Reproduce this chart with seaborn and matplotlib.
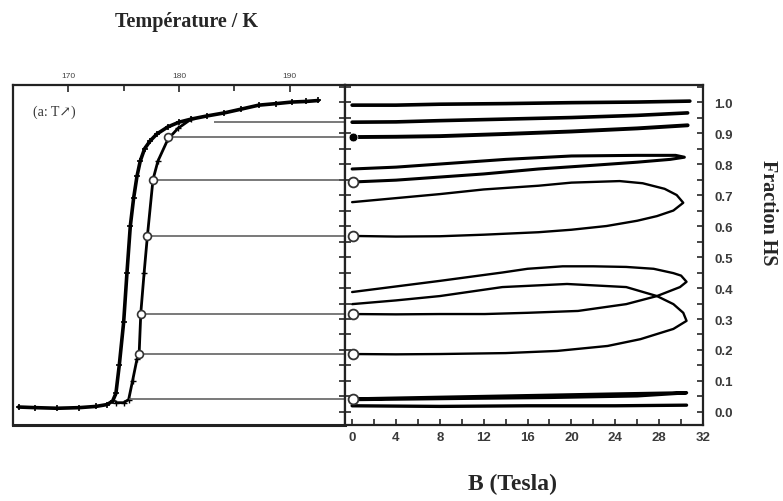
import matplotlib
matplotlib.use('Agg')
import matplotlib.pyplot as plt
from matplotlib.ticker import MultipleLocator
import pandas as pd
import seaborn as sns

# Left panel: HS fraction vs temperature (two branches of the transition)
temp_a = [165.5, 167.0, 169.0, 171.0, 172.5, 173.5, 174.0, 174.3, 174.6, 175.0, 175.3, 175.6,
          175.9, 176.2, 176.5, 176.9, 177.4, 178.0, 179.0, 180.0, 181.1, 182.5, 184.1, 185.6,
          187.2, 188.8, 190.2, 191.5, 192.6]
frac_a = [0.016, 0.014, 0.012, 0.014, 0.018, 0.024, 0.035, 0.06, 0.15, 0.29, 0.45, 0.60,
          0.69, 0.76, 0.81, 0.85, 0.875, 0.897, 0.92, 0.935, 0.945, 0.955, 0.965, 0.977,
          0.99, 0.995, 1.0, 1.002, 1.005]
temp_b = [174.3, 175.0, 175.45, 175.8, 176.2, 176.4, 176.55, 176.85, 177.15, 177.65, 178.1,
          179.0, 179.9, 181.1]
frac_b = [0.03, 0.03, 0.04, 0.10, 0.17, 0.19, 0.32, 0.45, 0.57, 0.75, 0.81, 0.88, 0.915, 0.945]

# horizontal guides from the quench points to the field axis
guide_level = [0.935, 0.887, 0.75, 0.568, 0.316, 0.187, 0.042]
guide_start = [183.2, 179.0, 177.65, 177.15, 176.55, 176.4, 175.45]
circle_temp = [179.0, 177.65, 177.15, 176.55, 176.4]
circle_frac = [0.887, 0.75, 0.568, 0.316, 0.187]

# Right panel: HS fraction vs pulsed field B (Tesla)
b_1 = [0, 4, 8, 14, 20, 26, 30.8]
f_1 = [0.99, 0.99, 0.993, 0.995, 0.998, 1.0, 1.003]
b_2 = [0, 4, 8, 14, 20, 26, 30.6]
f_2 = [0.935, 0.936, 0.94, 0.945, 0.95, 0.957, 0.965]
b_3 = [0, 4, 8, 14, 20, 26, 30.6]
f_3 = [0.887, 0.888, 0.89, 0.897, 0.905, 0.915, 0.925]
b_4 = [0, 4, 8, 12, 17, 22, 26, 29, 30.3, 29.5, 26, 20, 14, 8, 4, 0]
f_4 = [0.742, 0.748, 0.758, 0.768, 0.784, 0.796, 0.806, 0.815, 0.822, 0.828, 0.828, 0.826,
       0.815, 0.80, 0.79, 0.784]
b_5 = [0, 4, 8, 12, 17, 20, 23.2, 26, 27.8, 29.3, 30.2, 29.6, 28.5, 26.5, 24.4, 20, 17, 12,
       8, 4, 0]
f_5 = [0.568, 0.566, 0.567, 0.572, 0.58, 0.588, 0.60, 0.617, 0.632, 0.65, 0.675, 0.70, 0.72,
       0.738, 0.745, 0.74, 0.73, 0.718, 0.703, 0.69, 0.677]
b_6 = [0, 4, 8, 12.1, 16, 20.6, 25, 27.8, 29.9, 30.5, 30.0, 29.3, 27.5, 25, 22, 19.2, 16,
       13.7, 8, 4, 0]
f_6 = [0.316, 0.315, 0.316, 0.316, 0.32, 0.326, 0.348, 0.374, 0.403, 0.42, 0.44, 0.448, 0.462,
       0.468, 0.47, 0.47, 0.462, 0.45, 0.423, 0.405, 0.387]
b_7 = [0, 4, 8, 14, 18.7, 23.3, 26.3, 29.3, 30.5, 30.2, 29.3, 27.8, 25, 19.6, 13.7, 8, 4, 0]
f_7 = [0.187, 0.186, 0.187, 0.19, 0.197, 0.213, 0.235, 0.268, 0.294, 0.32, 0.348, 0.374,
       0.403, 0.413, 0.403, 0.374, 0.36, 0.348]
b_8 = [0, 6, 12, 18, 24, 30.5, 26, 18, 10, 0]
f_8 = [0.042, 0.046, 0.05, 0.054, 0.058, 0.062, 0.052, 0.047, 0.044, 0.04]
b_9 = [0, 8, 16, 24, 30.5]
f_9 = [0.02, 0.018, 0.02, 0.02, 0.022]

sweeps = [(b_1, f_1), (b_2, f_2), (b_3, f_3), (b_4, f_4), (b_5, f_5),
          (b_6, f_6), (b_7, f_7), (b_8, f_8), (b_9, f_9)]
sweep_lw = [2.6, 2.6, 2.8, 2.2, 1.7, 1.7, 1.7, 2.4, 2.4]

open_b = [0.1, 0.1, 0.1, 0.1, 0.1]
open_f = [0.742, 0.568, 0.316, 0.187, 0.042]
filled_b = [0.1]
filled_f = [0.887]

fraction_ticks = [0.0, 0.1, 0.2, 0.3, 0.4, 0.5, 0.6, 0.7, 0.8, 0.9, 1.0]
field_ticks = [0, 4, 8, 12, 16, 20, 24, 28, 32]
temp_ticks = [170, 180, 190]

sns.set_style('ticks')
serif = ['Liberation Serif', 'DejaVu Serif']
sans = ['Liberation Sans', 'DejaVu Sans']
plt.rcParams['font.family'] = sans

fig = plt.figure(figsize=(7.83, 5.02), dpi=100)
ax1 = fig.add_axes([13 / 783, 1 - 426 / 502, 332 / 783, 340 / 502])
ax2 = fig.add_axes([345 / 783, 1 - 426 / 502, 358 / 783, 340 / 502])

ylim = (-0.042, 1.055)

# ---- left panel ----
df_a = pd.DataFrame({'T': temp_a, 'f': frac_a})
df_b = pd.DataFrame({'T': temp_b, 'f': frac_b})
sns.lineplot(data=df_a, x='T', y='f', ax=ax1, color='black', lw=2.6, sort=False,
             estimator=None, marker='+', markersize=5, mew=1.2, mec='black')
sns.lineplot(data=df_b, x='T', y='f', ax=ax1, color='black', lw=2.0, sort=False,
             estimator=None, marker='+', markersize=4, mew=1.0, mec='black')
ax1.hlines(guide_level, guide_start, 195, color='#555555', lw=1.1)
sns.scatterplot(x=circle_temp, y=circle_frac, ax=ax1, marker='o', s=32,
                facecolor='white', edgecolor='#333333', linewidth=1.2, zorder=5)
ax1.set_xlim(165, 195)
ax1.set_ylim(*ylim)
ax1.xaxis.tick_top()
ax1.set_xticks(temp_ticks)
ax1.xaxis.set_minor_locator(MultipleLocator(5))
ax1.yaxis.tick_right()
ax1.yaxis.set_major_locator(MultipleLocator(0.1))
ax1.yaxis.set_minor_locator(MultipleLocator(0.05))
ax1.tick_params(axis='x', which='both', direction='in', top=True, bottom=False,
                labelsize=6, labelcolor='#444444', pad=4)
ax1.tick_params(axis='x', which='major', length=5, width=1.2)
ax1.tick_params(axis='x', which='minor', length=4, width=1.2)
ax1.tick_params(axis='y', which='both', direction='in', right=True, left=False,
                labelright=False, length=4, width=1.2)
ax1.set_xlabel('')
ax1.set_ylabel('')
for s in ax1.spines.values():
    s.set_linewidth(1.6)
    s.set_color('#222222')
ax1.spines['bottom'].set_linewidth(2.2)
ax1.text(166.8, 0.96, '(a: T\u2197)', fontsize=10, family=serif, color='#333333')

# ---- right panel ----
for (bx, fy), lw in zip(sweeps, sweep_lw):
    d = pd.DataFrame({'B': bx, 'f': fy})
    sns.lineplot(data=d, x='B', y='f', ax=ax2, color='black', lw=lw, sort=False,
                 estimator=None)
sns.scatterplot(x=open_b, y=open_f, ax=ax2, marker='o', s=50, facecolor='white',
                edgecolor='#333333', linewidth=1.3, zorder=5)
sns.scatterplot(x=filled_b, y=filled_f, ax=ax2, marker='o', s=40, color='black', zorder=5)
ax2.set_xlim(-0.65, 32)
ax2.set_ylim(*ylim)
ax2.set_xticks(field_ticks)
ax2.set_xticklabels([str(t) for t in field_ticks])
ax2.xaxis.set_minor_locator(MultipleLocator(2))
ax2.set_yticks(fraction_ticks)
ax2.set_yticklabels(['%.1f' % t for t in fraction_ticks])
ax2.yaxis.set_minor_locator(MultipleLocator(0.05))
ax2.yaxis.tick_right()
ax2.tick_params(axis='x', which='both', direction='in', bottom=True, top=False,
                labelsize=9.5, labelcolor='#3a3a3a', pad=4, length=4, width=1.2)
ax2.tick_params(axis='y', which='both', direction='in', left=True, right=True,
                labelleft=False, labelright=True, labelsize=9.5, labelcolor='#3a3a3a',
                pad=8, length=4, width=1.2)
for lab in ax2.get_xticklabels() + ax2.get_yticklabels():
    lab.set_fontweight('bold')
ax2.set_xlabel('')
ax2.set_ylabel('')
for s in ax2.spines.values():
    s.set_linewidth(1.6)
    s.set_color('#222222')

# titles
fig.text(115 / 783, 1 - 22 / 502, 'Température / K', fontsize=14.5, fontweight='bold',
         family=serif, va='center', ha='left')
fig.text(513 / 783, 1 - 484 / 502, 'B (Tesla)', fontsize=17, fontweight='bold',
         family=serif, va='center', ha='center')
fig.text(768 / 783, 1 - 213 / 502, 'Fraction HS', fontsize=14.5, fontweight='bold',
         family=serif, va='center', ha='center', rotation=-90)

fig.savefig('out.png', dpi=100)
